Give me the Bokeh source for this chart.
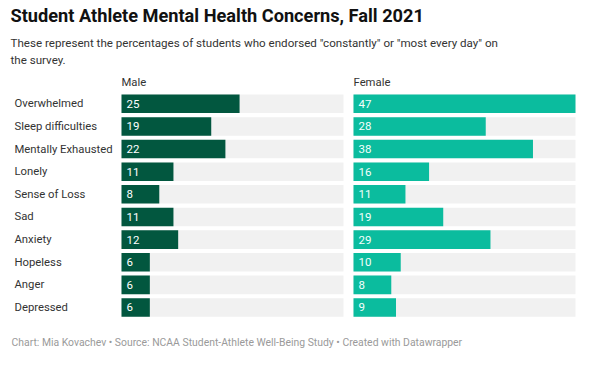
from bokeh.plotting import figure
from bokeh.models import Range1d, Label, ColumnDataSource
from bokeh.core.properties import value
from bokeh.embed import file_html
from bokeh.resources import INLINE

categories = ["Overwhelmed", "Sleep difficulties", "Mentally Exhausted", "Lonely",
              "Sense of Loss", "Sad", "Anxiety", "Hopeless", "Anger", "Depressed"]
male = [25, 19, 22, 11, 8, 11, 12, 6, 6, 6]
female = [47, 28, 38, 16, 11, 19, 29, 10, 8, 9]
panels = ["Male", "Female"]

title = "Student Athlete Mental Health Concerns, Fall 2021"
subtitle1 = 'These represent the percentages of students who endorsed "constantly" or "most every day" on'
subtitle2 = "the survey."
footer = "Chart: Mia Kovachev \u2022 Source: NCAA Student-Athlete Well-Being Study \u2022 Created with Datawrapper"

W, H = 584, 351
PX = 4.723            # pixels per percentage point
X0 = 121              # pixel where male bars start
FEM_OFF = (353 - X0) / PX   # female panel offset in percentage units
MAXV = max(max(male), max(female))
ROW0 = 103.3          # pixel centre of first row (from top)
PITCH = 22.63
BAR_H = 18.6

p = figure(width=W, height=H, output_backend="svg", toolbar_location=None,
           x_range=Range1d(-X0 / PX, (W - X0) / PX), y_range=Range1d(H, 0),
           min_border=0, outline_line_color=None)
p.axis.visible = False
p.grid.visible = False
p.background_fill_color = "white"
p.border_fill_color = "white"

ys = [ROW0 + i * PITCH for i in range(len(categories))]
FONT = "Roboto"

# background bars
for off in (0, FEM_OFF):
    src = ColumnDataSource(dict(y=ys, l=[off] * len(ys), r=[off + MAXV] * len(ys)))
    p.hbar(y="y", left="l", right="r", height=BAR_H, source=src,
           fill_color="#f1f1f1", line_color=None)

male_src = ColumnDataSource(dict(y=ys, l=[0] * len(ys), r=male, t=[str(v) for v in male],
                                 tx=[5 / PX] * len(ys)))
fem_src = ColumnDataSource(dict(y=ys, l=[FEM_OFF] * len(ys), r=[FEM_OFF + v for v in female],
                                t=[str(v) for v in female], tx=[FEM_OFF + 5 / PX] * len(ys)))
p.hbar(y="y", left="l", right="r", height=BAR_H, source=male_src,
       fill_color="#02573f", line_color=None)
p.hbar(y="y", left="l", right="r", height=BAR_H, source=fem_src,
       fill_color="#0bbc9e", line_color=None)

p.text(x="tx", y="y", text="t", source=male_src, text_color="white",
       text_font=value(FONT), text_font_size="11.5px", text_baseline="middle")
p.text(x="tx", y="y", text="t", source=fem_src, text_color="#f4fffc",
       text_font=value(FONT), text_font_size="11.5px", text_baseline="middle")

cat_src = ColumnDataSource(dict(y=ys, t=categories, x=[-(X0 - 14) / PX] * len(ys)))
p.text(x="x", y="y", text="t", source=cat_src, text_color="#333333",
       text_font=value(FONT), text_font_size="11.3px", text_baseline="middle")

hdr_src = ColumnDataSource(dict(x=[0, FEM_OFF], y=[82, 82], t=panels))
p.text(x="x", y="y", text="t", source=hdr_src, text_color="#333333",
       text_font=value(FONT), text_font_size="11.3px", text_baseline="middle")

def screen_label(txt, x, y_top, size, color, style="normal"):
    p.add_layout(Label(x=x, y=H - y_top, x_units="screen", y_units="screen", text=txt,
                       text_font=FONT, text_font_size=size, text_color=color,
                       text_font_style=style, text_baseline="top"))

screen_label(title, 10, 4, "18.2px", "#111111", "bold")
screen_label(subtitle1, 10, 35, "11.6px", "#333333")
screen_label(subtitle2, 10, 52.5, "11.6px", "#333333")
screen_label(footer, 11, 335, "10.4px", "#9a9a9a")

open("out.html", "w").write(file_html(p, INLINE))
